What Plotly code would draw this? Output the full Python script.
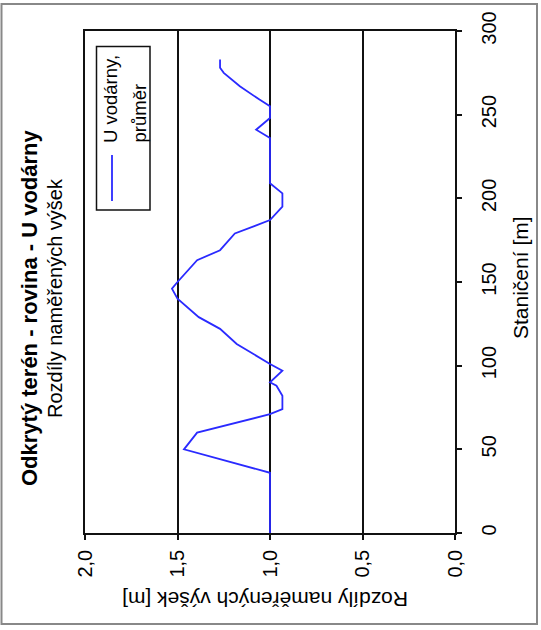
import plotly.graph_objects as go

# Data (station [m] vs. height difference [m])
stanice = [0, 36, 50, 60, 71, 74, 82, 88, 90, 97, 101, 113, 122, 129, 140, 146, 150,
           163, 169, 179, 187, 195, 203, 209, 236, 241, 248, 255, 259, 267, 275, 278, 283]
rozdil = [1.0, 1.0, 1.465, 1.394, 1.0, 0.933, 0.933, 0.965, 1.0, 0.933, 1.0, 1.18, 1.27,
          1.385, 1.5, 1.53, 1.5, 1.394, 1.27, 1.19, 1.0, 0.933, 0.933, 1.0, 1.0, 1.075,
          1.0, 1.0, 1.057, 1.163, 1.25, 1.27, 1.27]
serie_name = "U vodárny, průměr"
title = "Odkrytý terén - rovina - U vodárny"
subtitle = "Rozdíly naměřených výšek"
x_title = "Staničení [m]"
y_title = "Rozdíly naměřených výšek [m]"
val_ticks = [0.0, 0.5, 1.0, 1.5, 2.0]
stn_ticks = [0, 50, 100, 150, 200, 250, 300]

W, H = 541, 630
L, R, T, B = 85, 455, 31, 533
FONT = "Liberation Sans, Arial, sans-serif"


def fx(px):
    return (px - L) / (R - L)


def fy(py):
    return (B - py) / (B - T)


fig = go.Figure()
fig.add_trace(go.Scatter(x=rozdil, y=stanice, mode="lines", name=serie_name,
                         line=dict(color="#2a2aff", width=1.8), showlegend=False))

fig.update_layout(
    width=W, height=H,
    margin=dict(l=L, r=W - R, t=T, b=H - B),
    paper_bgcolor="white", plot_bgcolor="white",
    separators=", ",
    font=dict(family=FONT, color="#000"),
    xaxis=dict(range=[2.0, 0.0], tickvals=val_ticks, tickformat=".1f",
               tickangle=-90, ticks="outside", ticklen=5, tickwidth=1.5, tickcolor="#111",
               showline=True, linecolor="#111", linewidth=1.5, mirror=True,
               showgrid=True, gridcolor="#111", gridwidth=1.8, zeroline=False,
               tickfont=dict(size=20, family=FONT), ticklabelstandoff=2),
    yaxis=dict(range=[0, 300], tickvals=stn_ticks, side="right",
               tickangle=-90, ticks="outside", ticklen=5, tickwidth=1.5, tickcolor="#111",
               showline=True, linecolor="#111", linewidth=1.5, mirror=True,
               showgrid=False, zeroline=False,
               tickfont=dict(size=20, family=FONT), ticklabelstandoff=10),
)

ann = []
ann.append(dict(text="<b>" + title + "</b>", x=fx(29), y=fy(308), xref="paper", yref="paper",
                textangle=-90, showarrow=False, font=dict(size=22, family=FONT),
                xanchor="center", yanchor="middle"))
ann.append(dict(text=subtitle, x=fx(55), y=fy(298), xref="paper", yref="paper",
                textangle=-90, showarrow=False, font=dict(size=20, family=FONT),
                xanchor="center", yanchor="middle"))
ann.append(dict(text=x_title, x=fx(520), y=fy(278), xref="paper", yref="paper",
                textangle=-90, showarrow=False, font=dict(size=21, family=FONT),
                xanchor="center", yanchor="middle"))
ann.append(dict(text=y_title, x=fx(265), y=fy(599), xref="paper", yref="paper",
                textangle=180, showarrow=False, font=dict(size=21, family=FONT),
                xanchor="center", yanchor="middle"))
# legend
ann.append(dict(text="U vodárny,", x=fx(110), y=fy(145), xref="paper", yref="paper",
                textangle=-90, showarrow=False, font=dict(size=18.5, family=FONT),
                xanchor="center", yanchor="bottom"))
ann.append(dict(text="průměr", x=fx(139), y=fy(145), xref="paper", yref="paper",
                textangle=-90, showarrow=False, font=dict(size=18.5, family=FONT),
                xanchor="center", yanchor="bottom"))
fig.update_layout(annotations=ann)

shapes = []
shapes.append(dict(type="rect", xref="paper", yref="paper", x0=fx(96.5), x1=fx(150),
                   y0=fy(210), y1=fy(46.5), line=dict(color="#111", width=1.5)))
shapes.append(dict(type="line", xref="paper", yref="paper", x0=fx(112), x1=fx(112),
                   y0=fy(201), y1=fy(155), line=dict(color="#2a2aff", width=1.8)))
shapes.append(dict(type="rect", xref="paper", yref="paper", x0=fx(1.5), x1=fx(537),
                   y0=fy(624), y1=fy(4), line=dict(color="#888", width=2)))
fig.update_layout(shapes=shapes)

fig.write_html("out.html", config={"displayModeBar": False},
               post_script="document.body.style.margin='0';document.body.style.overflow='hidden';")
